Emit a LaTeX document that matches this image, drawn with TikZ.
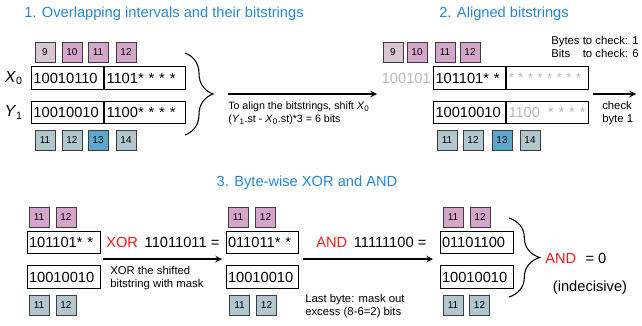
\documentclass[tikz,border=0pt]{standalone}
\usepackage{fontspec}
\setmainfont{Liberation Sans}
\usetikzlibrary{positioning,decorations.pathreplacing}

\definecolor{tblue}{RGB}{38,134,212}
\definecolor{opred}{RGB}{250,24,24}
\definecolor{xpale}{RGB}{216,198,210}
\definecolor{xpink}{RGB}{212,166,202}
\definecolor{yblue}{RGB}{178,198,206}
\definecolor{yhit}{RGB}{92,168,204}
\definecolor{bgray}{RGB}{185,185,185}
\definecolor{ixline}{RGB}{60,60,60}

\begin{document}
\begin{tikzpicture}
        [x=0.75pt,y=-0.75pt,>=stealth,
        ttl/.style={text=tblue,font=\fontsize{11}{13}\selectfont},
        ix/.style={draw=ixline,line width=0.7pt,minimum size=15pt,inner sep=0pt,font=\fontsize{7.5}{9}\selectfont},
        bx/.style={draw,line width=0.75pt,minimum height=17pt,inner xsep=1.5pt,inner ysep=0pt,align=left,font=\fontsize{11}{13}\selectfont},
        big/.style={inner sep=0pt,font=\fontsize{11}{13}\selectfont},
        lbl/.style={inner sep=0pt,font=\fontsize{12}{14}\selectfont},
        nt/.style={align=left,inner sep=0pt,font=\fontsize{8}{9.5}\selectfont},
        arr/.style={->,line width=1.2pt},
        brc/.style={decorate,line width=0.8pt,decoration={brace,amplitude=#1}}]
        \useasboundingbox (0,0) rectangle (642,325);

        % 1. overlapping intervals
        \node[ttl] (t1) at (164,14) {1. Overlapping intervals and their bitstrings};
        \foreach \n/\x/\c in {9/45/xpale,10/72/xpink,11/98/xpink,12/126/xpink}
            \node[ix,fill=\c] (xa\n) at (\x,52) {\n};
        \node[bx,text width=51pt,anchor=west] (x1l) at (31,78) {10010110};
        \node[bx,text width=57.75pt,right=0pt of x1l] (x1r) {1101* * * *};
        \node[bx,text width=51pt,anchor=west] (y1l) at (31,112.5) {10010010};
        \node[bx,text width=57.75pt,right=0pt of y1l] (y1r) {1100* * * *};
        \node[lbl,left=6pt of x1l] (lx) {\textit{X}\textsubscript{0}};
        \node[lbl,left=6pt of y1l] (ly) {\textit{Y}\textsubscript{1}};
        \foreach \n/\x/\c in {11/45/yblue,12/72/yblue,13/98/yhit,14/126/yblue}
            \node[ix,fill=\c] (ya\n) at (\x,140) {\n};
        \draw[brc=21pt] (185,53) -- (185,135);
        \coordinate (a1s) at (228,94);
        \coordinate (a1e) at (377,94);
        \draw[arr] (a1s) -- (a1e);
        \node[nt,anchor=north west] (n1) at (228,102)
            {To align the bitstrings, shift \textit{X}\textsubscript{0}\\
             (\textit{Y}\textsubscript{1}.st - \textit{X}\textsubscript{0}.st)*3 = 6 bits};

        % 2. aligned bitstrings
        \node[ttl] (t2) at (504,14) {2. Aligned bitstrings};
        \foreach \n/\x/\c in {9/393/xpale,10/417/xpink,11/445/xpink,12/470/xpink}
            \node[ix,fill=\c] (xb\n) at (\x,52) {\n};
        \node[bx,text width=51pt,anchor=west] (x2l) at (433,78) {101101* *};
        \node[bx,text width=58.5pt,right=0pt of x2l,text=bgray,font=\fontsize{10}{12}\selectfont]
            (x2r) {\mbox{* * * * * * * *}};
        \node[big,text=bgray,left=1.5pt of x2l] (g2) {100101};
        \node[bx,text width=51pt,anchor=west] (y2l) at (433,112.5) {10010010};
        \node[bx,text width=58.5pt,right=0pt of y2l,text=bgray] (y2r) {1100\hspace{6pt}* * * *};
        \foreach \n/\x/\c in {11/447/yblue,12/473/yblue,13/502/yhit,14/530/yblue}
            \node[ix,fill=\c] (yb\n) at (\x,140) {\n};
        \node[nt,anchor=north west,font=\fontsize{8.5}{10}\selectfont] (info) at (551,35)
            {\begin{tabular}{@{}l@{ }l}Bytes & to check: 1\\Bits & to check: 6\end{tabular}};
        \coordinate (a2s) at (593,94);
        \coordinate (a2e) at (636,94);
        \draw[arr] (a2s) -- (a2e);
        \node[nt,anchor=north west,font=\fontsize{8.5}{9.5}\selectfont] (n2) at (602,101) {check\\byte 1};

        % 3. byte-wise XOR and AND
        \node[ttl] (t3) at (307,183) {3. Byte-wise XOR and AND};
        \node[ix,fill=xpink] (xc11) at (39,217) {11};
        \node[ix,fill=xpink] (xc12) at (66,217) {12};
        \node[bx,text width=51.75pt] (xA) at (63.5,242.5) {101101* *};
        \node[bx,text width=51.75pt] (yA) at (63.5,277) {10010010};
        \node[ix,fill=yblue] (yc11) at (39,305) {11};
        \node[ix,fill=yblue] (yc12) at (66,305) {12};
        \node[big,anchor=west] (op1) at (106,242)
            {\textcolor{opred}{XOR}\hspace{5pt}11011011 =};
        \coordinate (a3s) at (103,259);
        \coordinate (a3e) at (222,259);
        \draw[arr] (a3s) -- (a3e);
        \node[nt,anchor=north west,font=\fontsize{8.5}{9.75}\selectfont] (n3) at (110,266)
            {XOR the shifted\\bitstring with mask};

        \node[ix,fill=xpink] (xd11) at (238,217) {11};
        \node[ix,fill=xpink] (xd12) at (265.5,217) {12};
        \node[bx,text width=51pt] (xB) at (262,242.5) {011011* *};
        \node[bx,text width=51pt] (yB) at (262,277) {10010010};
        \node[ix,fill=yblue] (yd11) at (239.5,305) {11};
        \node[ix,fill=yblue] (yd12) at (266.5,305) {12};
        \node[big,anchor=west] (op2) at (316,242)
            {\textcolor{opred}{AND}\hspace{5pt}11111100 =};
        \coordinate (a4s) at (303,259);
        \coordinate (a4e) at (433,259);
        \draw[arr] (a4s) -- (a4e);
        \node[nt,anchor=north west,font=\fontsize{8.5}{9.75}\selectfont] (n4) at (305,294)
            {Last byte: mask out\\excess (8-6=2) bits};

        \node[ix,fill=xpink] (xe11) at (453,217) {11};
        \node[ix,fill=xpink] (xe12) at (480,217) {12};
        \node[bx,text width=51.75pt] (xC) at (476.5,242.5) {01101100};
        \node[bx,text width=51.75pt] (yC) at (476.5,277) {10010010};
        \node[ix,fill=yblue] (ye11) at (453,305) {11};
        \node[ix,fill=yblue] (ye12) at (479.5,305) {12};
        \draw[brc=23pt] (509,218) -- (509,297);
        \node[big,anchor=west] (res) at (545,258) {\textcolor{opred}{AND}\hspace{7pt}= 0};
        \node[big] (ind) at (590,288) {(indecisive)};
\end{tikzpicture}
\end{document}
